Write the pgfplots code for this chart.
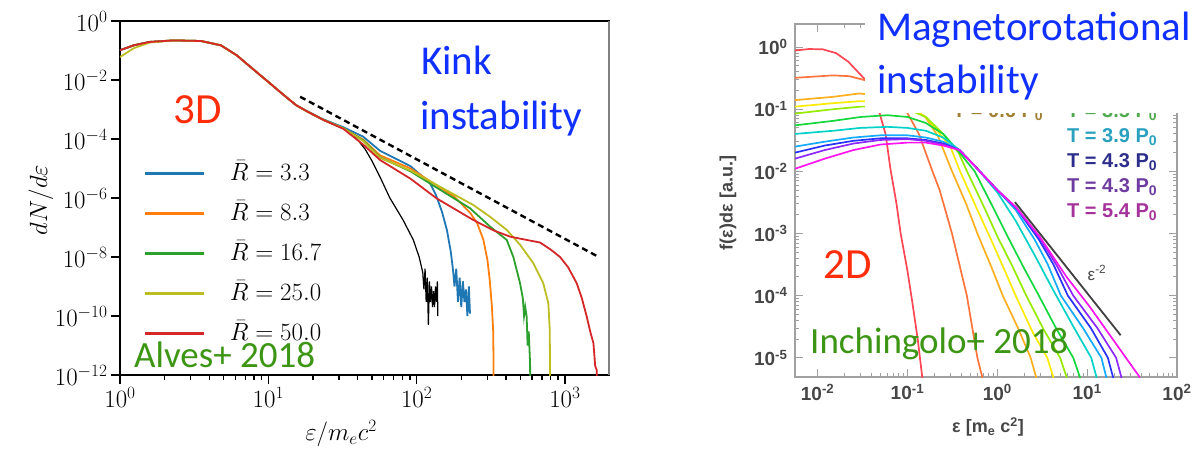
\documentclass[border=0pt]{standalone}
\usepackage{fontspec}
\setmainfont{Carlito}
\newfontfamily\rsans{Liberation Sans}
\usepackage{pgfplots}
\pgfplotsset{compat=1.18}

\definecolor{tabblue}{HTML}{1F77B4}
\definecolor{taborange}{HTML}{FF7F0E}
\definecolor{tabgreen}{HTML}{2CA02C}
\definecolor{tabolive}{HTML}{BCBD22}
\definecolor{tabred}{HTML}{D62728}
\definecolor{txtblue}{RGB}{16,48,255}
\definecolor{txtred}{RGB}{255,45,10}
\definecolor{txtgreen}{RGB}{60,150,20}
\definecolor{framegray}{RGB}{160,160,160}
\definecolor{ticklab}{RGB}{70,70,70}
% spectrum of the 2D run, earliest to latest
\definecolor{s1}{RGB}{255,70,85}
\definecolor{s2}{RGB}{255,115,60}
\definecolor{s3}{RGB}{255,175,30}
\definecolor{s4}{RGB}{250,235,0}
\definecolor{s5}{RGB}{150,235,0}
\definecolor{s6}{RGB}{20,215,60}
\definecolor{s7}{RGB}{0,210,200}
\definecolor{s8}{RGB}{20,170,255}
\definecolor{s9}{RGB}{40,50,255}
\definecolor{s10}{RGB}{140,40,255}
\definecolor{s11}{RGB}{255,20,240}
\definecolor{legteal}{RGB}{40,160,190}
\definecolor{legnavy}{RGB}{45,45,140}
\definecolor{legpurple}{RGB}{110,60,160}
\definecolor{legmag}{RGB}{165,50,155}
\definecolor{legbrown}{RGB}{160,128,50}
\definecolor{leggreen}{RGB}{80,170,80}

\begin{document}
\begin{tikzpicture}
\path[use as bounding box] (0pt,0pt) rectangle (1200pt,451pt);

% ---------------- 3D kink instability spectra ----------------
\begin{axis}[
  at={(120pt,76pt)}, anchor=south west,
  scale only axis, width=489pt, height=354pt,
  xmode=log, ymode=log,
  xmin=1, xmax=1982, ymin=1e-12, ymax=1,
  xtick={1,10,100,1000},
  ytick={1e-12,1e-10,1e-8,1e-6,1e-4,1e-2,1},
  yminorticks=false,
  tick align=outside, xtick pos=bottom, ytick pos=left,
  major tick length=9pt, minor tick length=5pt,
  tick style={black, line width=1.4pt},
  axis line style={black, line width=1.8pt},
  ticklabel style={font=\fontsize{24}{28}\selectfont},
  legend style={at={(axis description cs:0.049,0.607)}, anchor=north west,
    draw=none, fill=none, inner sep=0pt, row sep=14pt,
    nodes={inner sep=0pt, text height=20pt, text depth=6pt,
      font=\fontsize{26}{30}\selectfont},
    /tikz/every odd column/.append style={column sep=24pt}},
  legend image code/.code={\draw[#1, line width=2.6pt] (0pt,0pt) -- (59pt,0pt);},
  legend cell align=left,
  every axis plot/.append style={line width=1.8pt},
]
\addplot[black, line width=1.2pt, forget plot] coordinates {
 (1,0.102) (1.24,0.15) (1.58,0.195) (2.29,0.22) (3.52,0.21) (4.79,0.15)
 (6.12,0.069) (7.82,0.0243) (10,8.6e-3) (12.8,3.0e-3) (15.4,1.4e-3)
 (18.5,8.3e-4) (23.6,4.4e-4) (32.1,2.3e-4) (38,1.3e-4) (45,4.5e-5)
 (50,1.8e-5) (56.6,5.2e-6) (66,1e-6) (81,1.8e-7) (95,3.8e-8) (104,1e-8)
 (110,3e-9) (112,8e-10) (114,4e-9) (116,3e-10) (118,2e-9) (120,5e-11)
 (122,1.5e-9) (124,3e-10) (126,1e-9) (128,2e-10) (130,7e-10) (132,2e-10)
 (134,1e-9) (136,3e-10) (138,1.5e-9) (139,1e-10)};
\addplot[tabblue] coordinates {
 (1,0.102) (1.24,0.15) (1.58,0.195) (2.29,0.22) (3.52,0.21) (4.79,0.15)
 (6.12,0.069) (7.82,0.0243) (10,8.6e-3) (12.8,3.0e-3) (15.4,1.4e-3)
 (18.5,8.5e-4) (23.6,4.6e-4) (32.1,2.5e-4) (43.6,1.2e-4) (56.6,4e-5)
 (91,1.2e-5) (123,3.2e-6) (135,1.26e-6) (148,3.5e-7) (160,8.3e-8)
 (170,1.5e-8) (176,3.6e-9) (180,1e-9) (185,4e-9) (190,3e-10) (195,2e-9)
 (200,2e-10) (205,1.5e-9) (210,3e-10) (215,8e-10) (220,1e-10) (225,1e-9)
 (229,1.2e-10)};
\addlegendentry{$\bar{R} = 3.3$}
\addplot[taborange] coordinates {
 (1,0.102) (1.24,0.15) (1.58,0.195) (2.29,0.22) (3.52,0.21) (4.79,0.15)
 (6.12,0.069) (7.82,0.0243) (10,8.6e-3) (12.8,3.0e-3) (15.4,1.4e-3)
 (18.5,8.3e-4) (23.6,4.4e-4) (32.1,2.3e-4) (43.6,9.5e-5) (56.6,2.8e-5)
 (91,1.0e-5) (129,3.2e-6) (180,1.1e-6) (229,3.2e-7) (256,1.4e-7)
 (282,3.8e-8) (300,8e-9) (311,1.7e-9) (322,2e-10) (328,3.4e-11)
 (330,3e-12) (331,1e-13)};
\addlegendentry{$\bar{R} = 8.3$}
\addplot[tabgreen] coordinates {
 (1,0.102) (1.24,0.15) (1.58,0.195) (2.29,0.22) (3.52,0.21) (4.79,0.15)
 (6.12,0.069) (7.82,0.0243) (10,8.6e-3) (12.8,3.0e-3) (15.4,1.4e-3)
 (18.5,8.3e-4) (23.6,4.4e-4) (32.1,2.3e-4) (43.6,9e-5) (56.6,2.4e-5)
 (91,8e-6) (144,1.9e-6) (229,4.5e-7) (313,1.07e-7) (405,3.8e-8)
 (449,1.0e-8) (498,1.3e-9) (520,4e-10) (530,1e-10) (540,2e-10)
 (552,9.5e-11) (560,1e-11) (570,3e-11) (582,2.5e-12) (585,1e-13)};
\addlegendentry{$\bar{R} = 16.7$}
\addplot[tabolive] coordinates {
 (1,0.06) (1.24,0.12) (1.58,0.185) (2.29,0.22) (3.52,0.21) (4.79,0.15)
 (6.12,0.069) (7.82,0.0243) (10,8.6e-3) (12.8,3.0e-3) (15.4,1.4e-3)
 (18.5,8.3e-4) (23.6,4.4e-4) (32.1,2.3e-4) (43.6,8.5e-5) (56.6,2.3e-5)
 (91,8.5e-6) (144,2.4e-6) (241,5.8e-7) (313,2.3e-7) (405,8.3e-8)
 (498,2.6e-8) (612,6.2e-9) (714,1.3e-9) (773,2.7e-10) (790,3.4e-11)
 (794,1e-12) (795,1e-13)};
\addlegendentry{$\bar{R} = 25.0$}
\addplot[tabred] coordinates {
 (1,0.102) (1.24,0.15) (1.58,0.195) (2.29,0.22) (3.52,0.21) (4.79,0.15)
 (6.12,0.069) (7.82,0.0243) (10,8.6e-3) (12.8,3.0e-3) (15.4,1.4e-3)
 (18.5,8.3e-4) (23.6,4.4e-4) (32.1,2.2e-4) (43.6,6.5e-5) (56.6,1.95e-5)
 (91,4.5e-6) (136,9.8e-7) (241,1.8e-7) (330,8e-8) (427,4.9e-8)
 (550,3.8e-8) (679,3.1e-8) (800,1.8e-8) (927,1.0e-8) (1050,4.5e-9)
 (1200,1.3e-9) (1300,4e-10) (1403,9.5e-11) (1480,3e-11) (1556,1.2e-11)
 (1600,2e-12) (1637,1.5e-12) (1650,1e-13)};
\addlegendentry{$\bar{R} = 50.0$}
% power-law guide
\addplot[black, line width=2.4pt, dash pattern=on 6pt off 4pt, forget plot]
 coordinates {(16.4,2.7e-3) (1690,1e-8)};
\end{axis}
\draw[framegray!80!black, line width=2.5pt] (609pt,76pt) -- (609pt,430pt);

\node[rotate=90, font=\fontsize{26}{30}\selectfont] at (41pt,251pt) {$dN/d\varepsilon$};
\node[font=\fontsize{26}{30}\selectfont] at (341pt,17pt) {$\varepsilon/m_e c^2$};

\node[anchor=base west, text=txtred, font=\fontsize{43}{50}\selectfont, inner sep=0pt] at (173pt,327pt) {3D};
\node[anchor=base west, text=txtblue, font=\fontsize{41}{48}\selectfont, inner sep=0pt] at (421pt,376pt) {Kink};
\node[anchor=base west, text=txtblue, font=\fontsize{41}{48}\selectfont, inner sep=0pt] at (420pt,322pt) {instability};
\node[anchor=base west, text=txtgreen, font=\fontsize{37}{44}\selectfont, inner sep=0pt] at (134pt,84pt) {Alves+ 2018};

% ---------------- 2D magnetorotational instability spectra ----------------
\begin{axis}[
  at={(795pt,74pt)}, anchor=south west,
  scale only axis, width=382pt, height=353pt,
  xmode=log, ymode=log,
  xmin=0.0056, xmax=100, ymin=4.9e-6, ymax=2.35,
  xtick={0.01,0.1,1,10,100},
  xticklabels={10\textsuperscript{-2},10\textsuperscript{-1},10\textsuperscript{0},10\textsuperscript{1},10\textsuperscript{2}},
  ytick={1e-5,1e-4,1e-3,1e-2,1e-1,1},
  yticklabels={10\textsuperscript{-5},10\textsuperscript{-4},10\textsuperscript{-3},10\textsuperscript{-2},10\textsuperscript{-1},10\textsuperscript{0}},
  tick align=inside,
  major tick length=8pt, minor tick length=4pt,
  tick style={framegray, line width=1pt},
  axis line style={framegray, line width=1.3pt},
  ticklabel style={font=\rsans\bfseries\fontsize{19}{22}\selectfont, text=ticklab},
  xticklabel style={yshift=-4pt},
  yticklabel style={xshift=-4pt},
  every axis plot/.append style={line width=1.7pt},
]
\addplot[s1] coordinates {
 (0.0056,0.88) (0.008,0.93) (0.0114,0.92) (0.016,0.8) (0.022,0.58)
 (0.0345,0.29) (0.0445,0.14) (0.057,0.04) (0.065,0.0104) (0.075,3.2e-3)
 (0.084,1e-3) (0.1,2.5e-4) (0.113,8e-5) (0.13,2e-5) (0.146,4.9e-6) (0.15,3e-6)};
\addplot[s2] coordinates {
 (0.0056,0.32) (0.0148,0.35) (0.0226,0.34) (0.0345,0.29) (0.0575,0.2)
 (0.096,0.096) (0.134,0.04) (0.188,0.0104) (0.228,5e-3) (0.313,1e-3)
 (0.458,1e-4) (0.6,1e-5) (0.68,4.9e-6) (0.7,3e-6)};
\addplot[s3] coordinates {
 (0.0056,0.14) (0.0148,0.158) (0.0291,0.179) (0.0575,0.16) (0.096,0.123)
 (0.158,0.075) (0.22,0.036) (0.31,0.0104) (0.45,3e-3) (0.6,1e-3)
 (0.85,3e-4) (1.15,1e-4) (1.7,3e-5) (2.35,1e-5) (2.7,4.9e-6) (2.8,3.5e-6)};
\addplot[s4] coordinates {
 (0.0056,0.11) (0.015,0.125) (0.03,0.135) (0.06,0.13) (0.1,0.11)
 (0.16,0.075) (0.3,0.025) (0.385,0.01) (0.6,2.4e-3) (0.85,8e-4)
 (1.2,2.6e-4) (1.6,1e-4) (2.5,2.5e-5) (3.6,1e-5) (4.2,4.9e-6) (4.4,3.5e-6)};
\addplot[s5] coordinates {
 (0.0056,0.085) (0.015,0.1) (0.03,0.11) (0.06,0.11) (0.1,0.1)
 (0.16,0.075) (0.25,0.04) (0.37,0.02) (0.46,0.01) (0.7,2.8e-3)
 (1.0,9e-4) (1.5,2.8e-4) (2.1,1e-4) (3.3,2.8e-5) (5.0,1e-5) (5.9,4.9e-6) (6.2,3.5e-6)};
\addplot[s6] coordinates {
 (0.0056,0.055) (0.015,0.065) (0.03,0.075) (0.06,0.08) (0.1,0.075)
 (0.16,0.06) (0.25,0.04) (0.37,0.021) (0.56,0.01) (0.9,2.6e-3)
 (1.3,9e-4) (2.0,2.7e-4) (2.9,1e-4) (4.5,3e-5) (7.0,1e-5) (8.3,4.9e-6) (8.7,3.5e-6)};
\addplot[s7] coordinates {
 (0.0056,0.04) (0.015,0.045) (0.03,0.05) (0.06,0.052) (0.1,0.05)
 (0.16,0.045) (0.25,0.035) (0.38,0.022) (0.6,0.011) (1.0,4.6e-3)
 (1.6,1.6e-3) (2.6,4.5e-4) (4.1,1.3e-4) (7,3.2e-5) (11.1,1e-5) (12.7,4.9e-6) (13.2,3.5e-6)};
\addplot[s8] coordinates {
 (0.0056,0.025) (0.012,0.03) (0.025,0.035) (0.05,0.038) (0.1,0.038)
 (0.16,0.035) (0.25,0.03) (0.38,0.022) (0.6,0.011) (1.0,5e-3)
 (1.6,2.4e-3) (2.6,8e-4) (3.6,3.3e-4) (5.1,1e-4) (9,3e-5) (14.4,1e-5) (16.3,4.9e-6) (17,3.5e-6)};
\addplot[s9] coordinates {
 (0.0056,0.02) (0.012,0.026) (0.025,0.031) (0.05,0.034) (0.1,0.034)
 (0.16,0.032) (0.25,0.028) (0.38,0.022) (0.6,0.011) (1.0,5e-3)
 (1.63,2.55e-3) (2.9,8e-4) (4.2,3.2e-4) (6.1,1e-4) (11,3e-5) (17,1e-5) (19.4,4.9e-6) (20.5,3.5e-6)};
\addplot[s10] coordinates {
 (0.0056,0.016) (0.012,0.022) (0.025,0.028) (0.05,0.032) (0.1,0.033)
 (0.16,0.031) (0.25,0.027) (0.38,0.022) (0.6,0.011) (1.0,5e-3)
 (1.63,2.6e-3) (2.96,8.5e-4) (4.5,3.2e-4) (7,1e-4) (13,3e-5) (21,1e-5) (24,4.9e-6) (25,3.5e-6)};
\addplot[s11] coordinates {
 (0.0056,0.011) (0.012,0.016) (0.025,0.022) (0.05,0.027) (0.1,0.029)
 (0.16,0.029) (0.25,0.026) (0.38,0.022) (0.6,0.011) (1.0,5e-3)
 (1.63,2.6e-3) (2.96,8.9e-4) (5.9,2e-4) (10.7,6.6e-5) (25,1.17e-5) (38,5e-6) (40,4e-6)};
% epsilon^-2 guide
\addplot[black!75, line width=1.8pt] coordinates {(1.57,3.2e-3) (23.6,2.3e-5)};
\end{axis}
\node[font=\rsans\fontsize{17}{20}\selectfont, text=black!70] at (1097pt,178pt) {ε\textsuperscript{-2}};

\node[rotate=90, font=\rsans\bfseries\fontsize{18}{22}\selectfont, text=ticklab] at (728pt,248pt) {f(ε)dε [a.u.]};
\node[font=\rsans\bfseries\fontsize{18}{22}\selectfont, text=ticklab] at (988pt,24pt) {ε [m\textsubscript{e} c\textsuperscript{2}]};

% run legend of the 2D panel
\begin{scope}[every node/.style={anchor=west, inner sep=0pt, font=\rsans\bfseries\fontsize{20}{24}\selectfont}]
\node[text=legbrown] at (953pt,339pt) {T = 0.6 P\textsubscript{0}};
\node[text=leggreen] at (1067pt,339pt) {T = 3.5 P\textsubscript{0}};
\node[text=legteal] at (1067pt,314pt) {T = 3.9 P\textsubscript{0}};
\node[text=legnavy] at (1067pt,289pt) {T = 4.3 P\textsubscript{0}};
\node[text=legpurple] at (1067pt,264pt) {T = 4.3 P\textsubscript{0}};
\node[text=legmag] at (1067pt,239pt) {T = 5.4 P\textsubscript{0}};
\end{scope}

\fill[white] (865pt,338pt) rectangle (1200pt,451pt);
\node[anchor=base west, text=txtblue, font=\fontsize{41}{48}\selectfont, inner sep=0pt] at (877pt,410pt) {Magnetorotational};
\node[anchor=base west, text=txtblue, font=\fontsize{41}{48}\selectfont, inner sep=0pt] at (877pt,358pt) {instability};
\node[anchor=base west, text=txtred, font=\fontsize{43}{50}\selectfont, inner sep=0pt] at (823pt,173pt) {2D};
\node[anchor=base west, text=txtgreen, font=\fontsize{37}{44}\selectfont, inner sep=0pt] at (810pt,98pt) {Inchingolo+ 2018};
\end{tikzpicture}
\end{document}
